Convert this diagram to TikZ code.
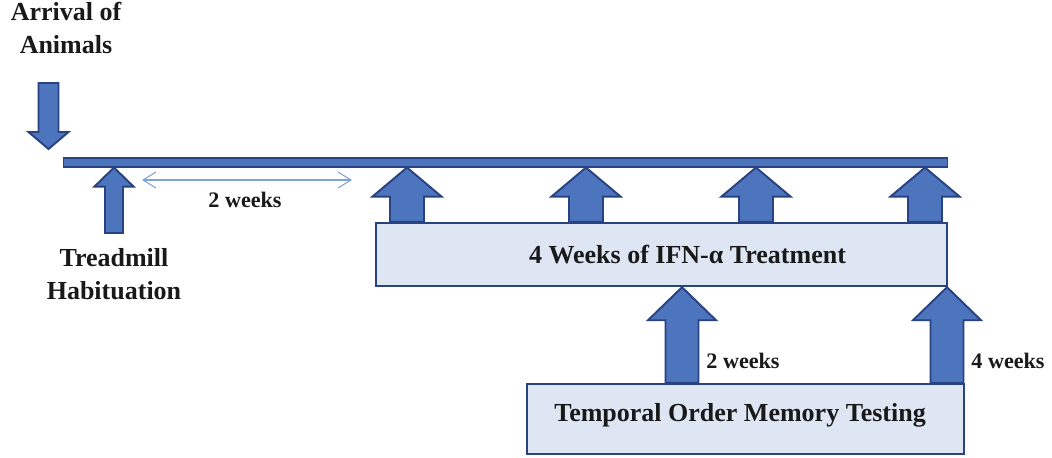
\documentclass[tikz,border=0pt]{standalone}
\usepackage{fontspec}
\setmainfont{Liberation Serif}
\usetikzlibrary{calc,positioning,arrows.meta,backgrounds}

\definecolor{arrowblue}{RGB}{76,117,190}
\definecolor{darkblue}{RGB}{40,66,130}
\definecolor{boxblue}{RGB}{222,230,243}
\definecolor{thinblue}{RGB}{128,163,214}
\definecolor{textgray}{RGB}{25,25,25}

% block arrow: base, tip, shaft half width, head half width, head length
\newcommand{\blockarr}[5]{%
  \filldraw[block arrow] ($(#1)!#3!90:(#2)$)
    -- ($(#2)!#5!(#1)!#3!90:(#2)$) -- ($(#2)!#5!(#1)!#4!90:(#2)$)
    -- (#2)
    -- ($(#2)!#5!(#1)!#4!-90:(#2)$) -- ($(#2)!#5!(#1)!#3!-90:(#2)$)
    -- ($(#1)!#3!-90:(#2)$) -- cycle;}

\begin{document}
\begin{tikzpicture}[x=0.02cm,y=-0.02cm,
            box node/.style={rectangle,draw=darkblue,fill=boxblue,line width=1.4pt,inner sep=0pt},
            bar node/.style={rectangle,draw=darkblue,fill=arrowblue,line width=0.9pt,inner sep=0pt,
             minimum width=17.68cm, minimum height=0.17cm},
            title node/.style={font=\bfseries\fontsize{14.8}{18.5}\selectfont,text=textgray,
             align=center,inner sep=0pt},
            week node/.style={font=\bfseries\fontsize{12.6}{15}\selectfont,text=textgray,inner sep=0pt},
            block arrow/.style={fill=arrowblue,draw=darkblue,line width=1.1pt}]

            \useasboundingbox (0,0) rectangle (1052,457);

            \node[bar node] (bar) at (505.5,162.5) {};
            \node[box node, minimum width=11.42cm, minimum height=1.26cm] (ifn) at (661.5,254.5) {};
            \node[box node, minimum width=8.74cm, minimum height=1.4cm] (tomt) at (745.5,419) {};

            \node[title node] (arrival) at (66,28) {Arrival of\\Animals};
            \node[title node] (treadmill) at (114,274) {Treadmill\\Habituation};
            \node[title node] (ifnlabel) at ([xshift=0.52cm]ifn.center) {4 Weeks of IFN-α Treatment};
            \node[title node] (tomtlabel) at ([xshift=-0.11cm,yshift=0.08cm]tomt.center) {Temporal Order Memory Testing};

            \node[week node] (habweeks) at (245,200) {2 weeks};
            \node[week node] (midweeks) at (743,361) {2 weeks};
            \node[week node] (endweeks) at (1008,361) {4 weeks};

            \coordinate (hab start) at (142,180);
            \coordinate (hab end) at (352,180);
            \draw[{Straight Barb[length=2.6mm,width=3.2mm]}-{Straight Barb[length=2.6mm,width=3.2mm]},
              thinblue,line width=0.6pt] (hab start) -- (hab end);

            \begin{scope}[on background layer]
              \fill[white] (0,0) rectangle (1052,457);

              \coordinate (arrival top) at (48.5,83);
              \coordinate (arrival tip) at (48.5,149);
              \blockarr{arrival top}{arrival tip}{2mm}{4mm}{3.4mm}

              \coordinate (habit base) at (114,233);
              \coordinate (habit tip) at (bar.south -| habit base);
              \blockarr{habit base}{habit tip}{1.8mm}{3.9mm}{3.8mm}

              \foreach \x [count=\i] in {407,586,756,925} {
                \coordinate (dose base \i) at (ifn.north -| \x,0);
                \coordinate (dose tip \i) at (bar.south -| \x,0);
                \blockarr{dose base \i}{dose tip \i}{3.4mm}{6.9mm}{5.8mm}
              }

              \foreach \x [count=\i] in {682,947} {
                \coordinate (test base \i) at (tomt.north -| \x,0);
                \coordinate (test tip \i) at (ifn.south -| \x,0);
                \blockarr{test base \i}{test tip \i}{3.3mm}{6.8mm}{6.6mm}
              }
            \end{scope}

\end{tikzpicture}
\end{document}
